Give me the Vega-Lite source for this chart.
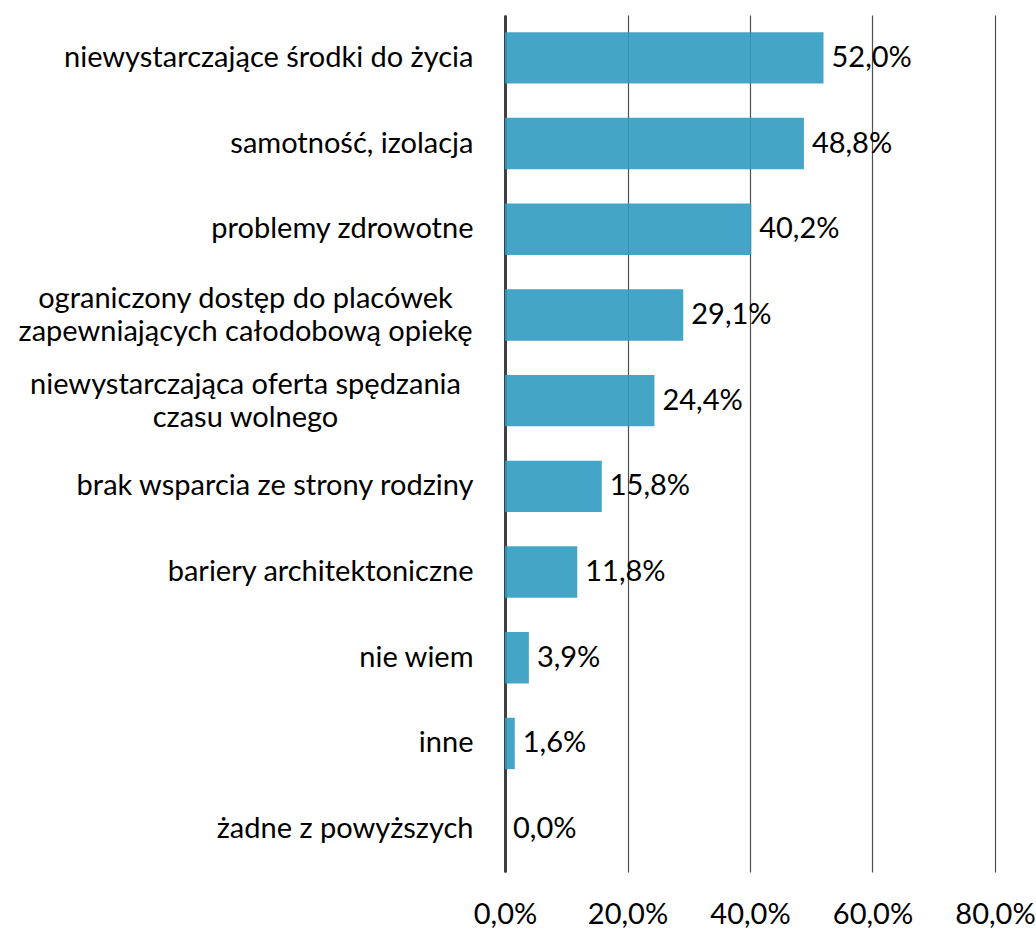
{
  "$schema": "https://vega.github.io/schema/vega-lite/v6.json",
  "autosize": {"type": "none"},
  "width": 490,
  "height": 857,
  "padding": {"left": 505, "top": 15, "right": 41, "bottom": 57},
  "config": {
    "locale": {"number": {"decimal": ",", "thousands": " ", "grouping": [3], "currency": ["", " zł"]}},
    "view": {"stroke": null},
    "font": "Lato"
  },
  "data": {
    "values": [
      {"kategoria": "niewystarczające środki do życia", "wartosc": 0.520},
      {"kategoria": "samotność, izolacja", "wartosc": 0.488},
      {"kategoria": "problemy zdrowotne", "wartosc": 0.402},
      {"kategoria": "ograniczony dostęp do placówek|zapewniających całodobową opiekę", "wartosc": 0.291},
      {"kategoria": "niewystarczająca oferta spędzania|czasu wolnego", "wartosc": 0.244},
      {"kategoria": "brak wsparcia ze strony rodziny", "wartosc": 0.158},
      {"kategoria": "bariery architektoniczne", "wartosc": 0.118},
      {"kategoria": "nie wiem", "wartosc": 0.039},
      {"kategoria": "inne", "wartosc": 0.016},
      {"kategoria": "żadne z powyższych", "wartosc": 0.0}
    ]
  },
  "encoding": {
    "y": {
      "field": "kategoria",
      "type": "nominal",
      "sort": null,
      "scale": {"paddingInner": 0.4, "paddingOuter": 0.2},
      "axis": {
        "title": null,
        "ticks": false,
        "grid": false,
        "domain": true,
        "domainColor": "#404040",
        "domainWidth": 3,
        "labelFont": "Lato",
        "labelFontSize": 29,
        "labelColor": "#000000",
        "labelLimit": 600,
        "labelLineHeight": 33,
        "labelExpr": "split(datum.value, '|')",
        "labelAlign": {"condition": {"test": "indexof(datum.value, '|') >= 0", "value": "center"}, "value": "right"},
        "labelPadding": {"condition": {"test": "indexof(datum.value, '|') >= 0", "value": 260}, "value": 32},
        "labelOffset": {"condition": {"test": "indexof(datum.value, '|') >= 0", "value": -16}, "value": 0}
      }
    },
    "x": {
      "field": "wartosc",
      "type": "quantitative",
      "scale": {"domain": [0, 0.8], "nice": false},
      "axis": {
        "title": null,
        "format": ".1%",
        "values": [0, 0.2, 0.4, 0.6, 0.8],
        "ticks": false,
        "domain": false,
        "grid": true,
        "gridColor": "#505050",
        "gridWidth": 1.2,
        "labelFont": "Lato",
        "labelFontSize": 29,
        "labelColor": "#000000",
        "labelPadding": 28,
        "labelFlush": false
      }
    }
  },
  "layer": [
    {
      "mark": {"type": "bar", "color": "#309BC0", "opacity": 0.9}
    },
    {
      "mark": {"type": "text", "align": "left", "baseline": "middle", "dx": 8, "font": "Lato", "fontSize": 29, "color": "#000000"},
      "encoding": {
        "text": {"field": "wartosc", "type": "quantitative", "format": ".1%"}
      }
    }
  ]
}
